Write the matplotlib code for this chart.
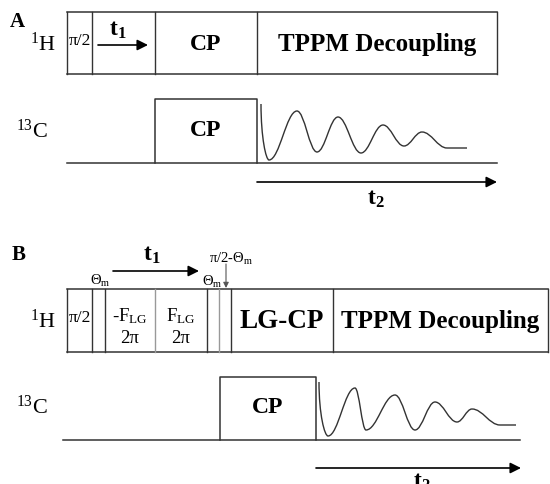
import numpy as np
import matplotlib.pyplot as plt
from matplotlib.path import Path
from matplotlib.patches import PathPatch

plt.rcParams.update({
    "font.family": "Liberation Serif",
    "mathtext.fontset": "custom",
    "mathtext.rm": "Liberation Serif",
    "mathtext.it": "Liberation Serif:italic",
    "mathtext.bf": "Liberation Serif:bold",
})

# Panel A: 1H block boundaries (pixel units) and labels
A_H_EDGES = [67, 92, 155, 257, 497]
A_H_LABELS = ["π/2", "", "CP", "TPPM Decoupling"]
A_H_Y = (13, 75)
A_C_CP = (155, 257)
A_C_Y = (100, 164)
A_C_LINE = (67, 497)
# FID extrema (x, y)
A_FID_X = [261, 269, 297, 317, 338, 361, 383, 404, 422, 447, 467]
A_FID_Y = [105, 161, 112, 153, 118, 154, 126, 147, 133, 149, 149]

# Panel B
B_H_EDGES = [67, 92, 105, 155, 207, 219, 231, 333, 548]
B_H_LABELS = ["π/2", "", "-F$_{\\rm LG}$\n2π", "F$_{\\rm LG}$\n2π", "", "", "LG-CP", "TPPM Decoupling"]
B_H_GRAY = [155, 219]
B_H_Y = (290, 353)
B_C_CP = (220, 316)
B_C_Y = (378, 441)
B_C_LINE = (63, 520)
B_FID_X = [319, 328, 355, 366, 395, 415, 435, 457, 472, 500, 516]
B_FID_Y = [383, 437, 389, 431, 396, 431, 403, 423, 410, 426, 426]

EDGE = "#333333"
fig = plt.figure(figsize=(5.5, 4.85), dpi=100)
ax = fig.add_axes([0, 0, 1, 1])
ax.set_xlim(0, 550)
ax.set_ylim(485, 0)
ax.axis("off")


def block_row(edges, labels, ys, gray=()):
    y0, y1 = ys
    ax.plot([edges[0], edges[-1]], [y0, y0], color=EDGE, lw=1.1)
    ax.plot([edges[0], edges[-1]], [y1, y1], color=EDGE, lw=1.1)
    for e in edges:
        c = "#999999" if e in gray else EDGE
        ax.plot([e, e], [y0, y1], color=c, lw=1.0)
    for i, lab in enumerate(labels):
        if not lab:
            continue
        xc = (edges[i] + edges[i + 1]) / 2
        if lab == "π/2":
            ax.text(xc, (y0 + y1) / 2 - 3, lab, ha="center", va="center", fontsize=12.5)
        elif "2π" in lab:
            ax.text(xc, (y0 + y1) / 2 + 5, lab, ha="center", va="center", fontsize=13.5,
                    linespacing=1.3)
        elif lab == "LG-CP":
            ax.text(xc, (y0 + y1) / 2, lab, ha="center", va="center", fontsize=19.5,
                    fontweight="bold")
        elif lab == "CP":
            ax.text(xc, (y0 + y1) / 2, lab, ha="center", va="center", fontsize=17,
                    fontweight="bold")
        else:
            ax.text(xc, (y0 + y1) / 2, lab, ha="center", va="center", fontsize=18,
                    fontweight="bold")


def fid(xs, ys):
    verts = [(xs[0], ys[0])]
    codes = [Path.MOVETO]
    for i in range(1, len(xs)):
        x0, y0, x1, y1 = xs[i - 1], ys[i - 1], xs[i], ys[i]
        d = x1 - x0
        if i == 1:
            c1 = (x0, y0 + 0.6 * (y1 - y0))
        else:
            c1 = (x0 + 0.38 * d, y0)
        c2 = (x1 - 0.38 * d, y1)
        verts += [c1, c2, (x1, y1)]
        codes += [Path.CURVE4] * 3
    ax.add_patch(PathPatch(Path(verts, codes), fill=False, edgecolor=EDGE, lw=1.0))


def arrow(x0, y0, x1, y1, ms=16, lw=1.2, color="black"):
    ax.annotate("", xy=(x1, y1), xytext=(x0, y0),
                arrowprops=dict(arrowstyle="-|>", mutation_scale=ms, lw=lw,
                                color=color, shrinkA=0, shrinkB=0))


# ---- Panel A ----
ax.text(10, 22, "A", fontsize=15, fontweight="bold", va="center")
ax.text(30, 44, "$^{1}$H", fontsize=16, va="center")
block_row(A_H_EDGES, A_H_LABELS, A_H_Y)
arrow(98, 46, 148, 46)
ax.text(118, 30, "$\\mathbf{t_1}$", fontsize=17, ha="center", va="center")

ax.text(16, 131, "$^{13}$C", fontsize=16, va="center")
ax.plot(A_C_LINE, [A_C_Y[1]] * 2, color=EDGE, lw=1.1)
ax.plot([A_C_CP[0], A_C_CP[0], A_C_CP[1], A_C_CP[1]],
        [A_C_Y[1], A_C_Y[0], A_C_Y[0], A_C_Y[1]], color=EDGE, lw=1.1)
ax.text(sum(A_C_CP) / 2, 131, "CP", fontsize=17, fontweight="bold", ha="center", va="center")
fid(A_FID_X, A_FID_Y)
arrow(257, 183, 497, 183)
ax.text(376, 199, "$\\mathbf{t_2}$", fontsize=17, ha="center", va="center")

# ---- Panel B ----
ax.text(12, 255, "B", fontsize=15, fontweight="bold", va="center")
ax.text(30, 321, "$^{1}$H", fontsize=16, va="center")
block_row(B_H_EDGES, B_H_LABELS, B_H_Y, gray=B_H_GRAY)
arrow(113, 272, 199, 272)
ax.text(152, 255, "$\\mathbf{t_1}$", fontsize=17, ha="center", va="center")
ax.text(100, 281, "Θ$_{\\rm m}$", fontsize=10.5, ha="center", va="center")
ax.text(212, 282, "Θ$_{\\rm m}$", fontsize=10.5, ha="center", va="center")
ax.text(231, 259, "π/2-Θ$_{\\rm m}$", fontsize=10.5, ha="center", va="center")
arrow(226, 265, 226, 289, ms=8, lw=0.8, color="#555555")

ax.text(16, 407, "$^{13}$C", fontsize=16, va="center")
ax.plot(B_C_LINE, [B_C_Y[1]] * 2, color=EDGE, lw=1.1)
ax.plot([B_C_CP[0], B_C_CP[0], B_C_CP[1], B_C_CP[1]],
        [B_C_Y[1], B_C_Y[0], B_C_Y[0], B_C_Y[1]], color=EDGE, lw=1.1)
ax.text(sum(B_C_CP) / 2, 408, "CP", fontsize=17, fontweight="bold", ha="center", va="center")
fid(B_FID_X, B_FID_Y)
arrow(316, 469, 521, 469)
ax.text(422, 482, "$\\mathbf{t_2}$", fontsize=17, ha="center", va="center")

fig.savefig("out.png", dpi=100)
